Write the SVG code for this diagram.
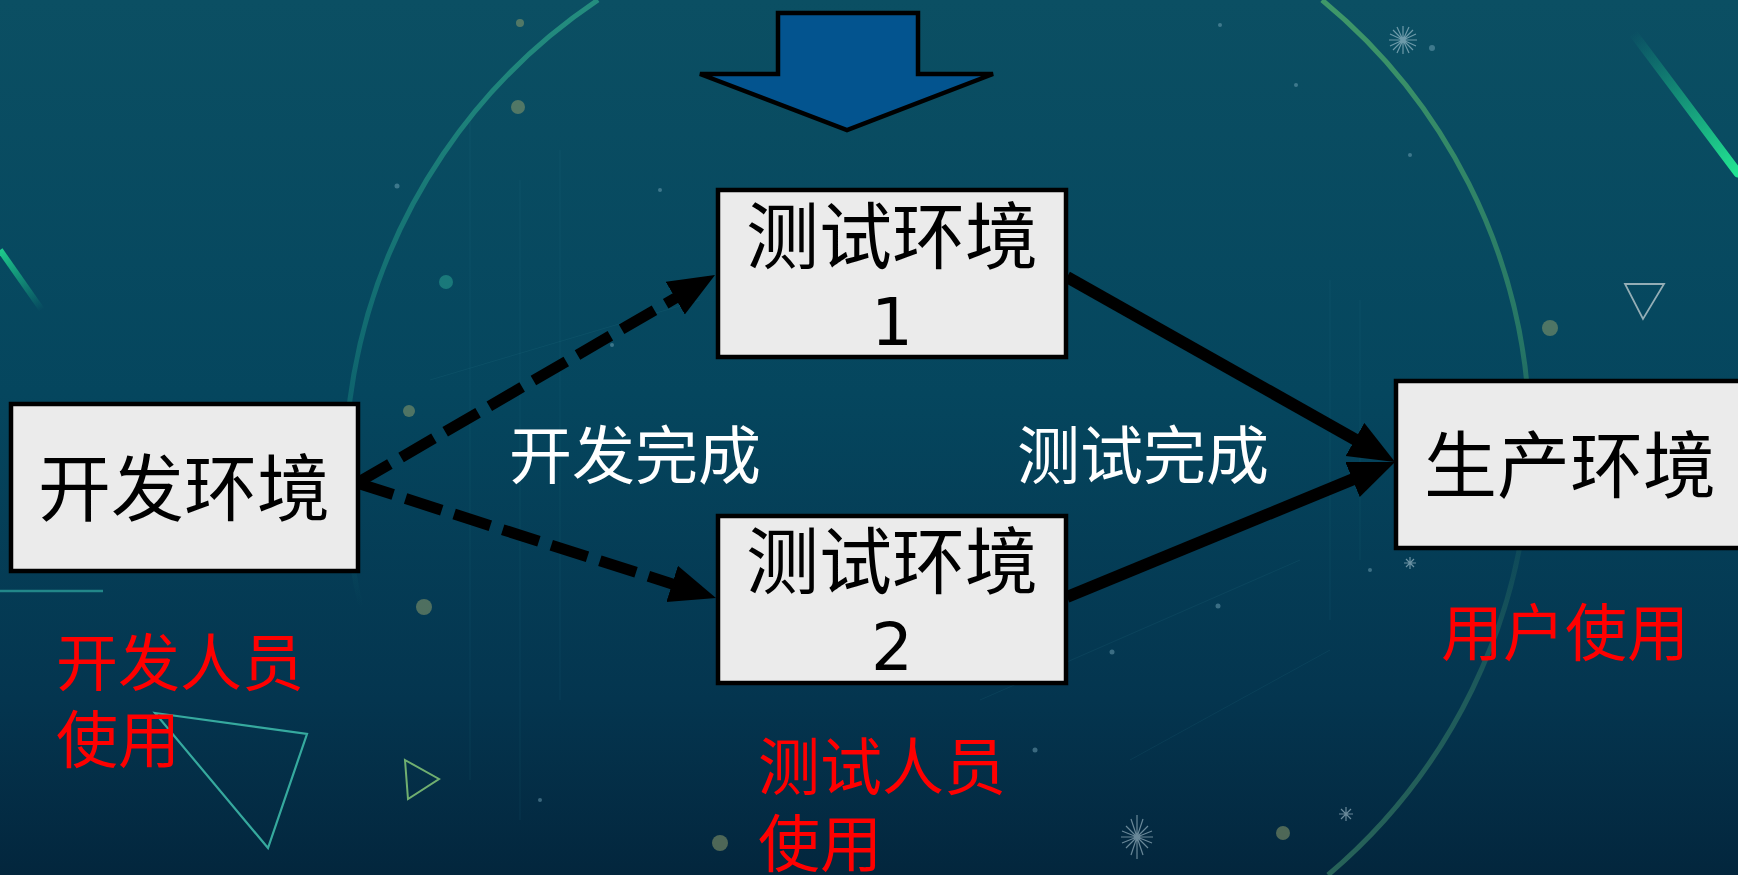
<svg xmlns="http://www.w3.org/2000/svg" width="1738" height="875" viewBox="0 0 1738 875">
  <defs>
    <linearGradient id="bg" x1="0" y1="0" x2="0" y2="1">
      <stop offset="0" stop-color="#0b4f63"/>
      <stop offset="0.45" stop-color="#05465e"/>
      <stop offset="0.8" stop-color="#04354f"/>
      <stop offset="1" stop-color="#03263d"/>
    </linearGradient>
    <linearGradient id="ringL" x1="0" y1="0" x2="0" y2="1">
      <stop offset="0" stop-color="#2fa88a" stop-opacity="0.7"/>
      <stop offset="0.5" stop-color="#1f9a8a" stop-opacity="0.35"/>
      <stop offset="0.75" stop-color="#1f9a8a" stop-opacity="0"/>
    </linearGradient>
    <linearGradient id="ringR" x1="0" y1="0" x2="0" y2="1">
      <stop offset="0" stop-color="#4caa6a" stop-opacity="0.8"/>
      <stop offset="0.4" stop-color="#3f9a6a" stop-opacity="0.55"/>
      <stop offset="0.6" stop-color="#3f8a6a" stop-opacity="0.12"/>
      <stop offset="0.8" stop-color="#3f8a6a" stop-opacity="0.45"/>
      <stop offset="1" stop-color="#3f8a6a" stop-opacity="0.6"/>
    </linearGradient>
    <linearGradient id="streakR" x1="1633" y1="33" x2="1738" y2="173" gradientUnits="userSpaceOnUse">
      <stop offset="0" stop-color="#20d890" stop-opacity="0"/>
      <stop offset="1" stop-color="#22e592" stop-opacity="1"/>
    </linearGradient>
    <linearGradient id="streakL" x1="0" y1="250" x2="42" y2="310" gradientUnits="userSpaceOnUse">
      <stop offset="0" stop-color="#20d890" stop-opacity="0.9"/>
      <stop offset="1" stop-color="#20d890" stop-opacity="0"/>
    </linearGradient>
    <marker id="head" markerUnits="userSpaceOnUse" markerWidth="48" markerHeight="40" refX="16" refY="19" orient="auto">
      <path d="M0,0 L46,19 L0,38 z" fill="#000"/>
    </marker>
    <style>
      .box { fill: #ebebeb; stroke: #000; stroke-width: 4.5; }
      .cjk { font-family: "Noto Sans CJK SC", sans-serif; }
      .big { font-size: 73px; fill: #000; text-anchor: middle; }
      .num { font-family: "DejaVu Sans", sans-serif; font-size: 66px; fill: #000; text-anchor: middle; }
      .lbl { font-size: 63px; fill: #ffffff; text-anchor: middle; }
      .red { font-size: 62px; fill: #ff0000; }
      .dash { fill: none; stroke: #000; stroke-width: 11; stroke-dasharray: 38 13; marker-end: url(#head); }
      .solid { fill: none; stroke: #000; stroke-width: 12; marker-end: url(#head); }
      .dot { fill: #8c9a6a; opacity: 0.55; }
      .sdot { fill: #7fb0c0; opacity: 0.45; }
      .spark { stroke: #cfe6f0; stroke-width: 1.2; opacity: 0.5; }
      .net { stroke: #3a8aa0; stroke-width: 1; opacity: 0.12; fill: none; }
    </style>
  </defs>

  <!-- background -->
  <g id="background">
    <rect x="0" y="0" width="1738" height="875" fill="url(#bg)"/>
    <path class="net" d="M470 120 L470 780 M520 180 L520 820 M560 150 L560 700 M1330 280 L1330 620 M1360 300 L1360 560 M430 380 L700 300 M980 700 L1300 560 M1130 760 L1330 650"/>
    <path d="M598 0 A570 570 0 0 0 455 810" fill="none" stroke="url(#ringL)" stroke-width="5"/>
    <path d="M1322 0 A570 570 0 0 1 1328 875" fill="none" stroke="url(#ringR)" stroke-width="5"/>
    <line x1="1633" y1="33" x2="1738" y2="173" stroke="url(#streakR)" stroke-width="9" stroke-linecap="round"/>
    <line x1="0" y1="250" x2="42" y2="310" stroke="url(#streakL)" stroke-width="6"/>
    <line x1="0" y1="591" x2="103" y2="591" stroke="#2fa8a0" stroke-width="2.5" opacity="0.7"/>
    <polygon points="155,713 307,734 268,848" fill="none" stroke="#3fbfae" stroke-width="2.2" opacity="0.85"/>
    <polygon points="405,760 439,779 408,799" fill="none" stroke="#8ccf7a" stroke-width="2" opacity="0.8"/>
    <polygon points="1625,284 1664,284 1643,319" fill="none" stroke="#b8c8cc" stroke-width="1.8" opacity="0.8"/>
    <circle class="dot" cx="1550" cy="328" r="8"/>
    <circle class="dot" cx="518" cy="107" r="7"/>
    <circle class="dot" cx="446" cy="282" r="7" style="fill:#2aa090"/>
    <circle class="dot" cx="409" cy="411" r="6"/>
    <circle class="dot" cx="520" cy="23" r="4"/>
    <circle class="dot" cx="424" cy="607" r="8"/>
    <circle class="dot" cx="720" cy="843" r="8"/>
    <circle class="dot" cx="1283" cy="833" r="7"/>
    <circle class="sdot" cx="1432" cy="48" r="3"/>
    <circle class="sdot" cx="397" cy="186" r="2.5"/>
    <circle class="sdot" cx="1410" cy="155" r="2"/>
    <circle class="sdot" cx="1220" cy="25" r="2"/>
    <circle class="sdot" cx="1296" cy="85" r="2"/>
    <circle class="sdot" cx="1035" cy="750" r="2.5"/>
    <circle class="sdot" cx="1112" cy="652" r="2.5"/>
    <circle class="sdot" cx="1218" cy="606" r="2.5"/>
    <circle class="sdot" cx="1370" cy="570" r="2"/>
    <circle class="sdot" cx="940" cy="635" r="2"/>
    <circle class="sdot" cx="540" cy="800" r="2"/>
    <circle class="sdot" cx="1480" cy="520" r="2"/>
    <circle class="sdot" cx="612" cy="345" r="2"/>
    <circle class="sdot" cx="660" cy="190" r="2"/>
    <g class="spark" transform="translate(1403,40)">
      <path d="M-14 0 L14 0 M0 -14 L0 14 M-10 -10 L10 10 M-10 10 L10 -10 M-6 -13 L6 13 M-13 -6 L13 6 M-6 13 L6 -13 M-13 6 L13 -6"/>
    </g>
    <g class="spark" transform="translate(1137,837)">
      <path d="M-16 0 L16 0 M0 -22 L0 22 M-11 -11 L11 11 M-11 11 L11 -11 M-6 -18 L6 18 M-15 -6 L15 6 M-6 18 L6 -18 M-15 6 L15 -6"/>
    </g>
    <g class="spark" transform="translate(1346,814)">
      <path d="M-7 0 L7 0 M0 -7 L0 7 M-5 -5 L5 5 M-5 5 L5 -5"/>
    </g>
    <g class="spark" transform="translate(1410,563)">
      <path d="M-6 0 L6 0 M0 -6 L0 6 M-4 -4 L4 4 M-4 4 L4 -4"/>
    </g>
  </g>

  <!-- top blue arrow -->
  <g id="top-arrow">
    <polygon points="778,13 918,13 918,74 993,74 847,130 700,74 778,74" fill="#03548f" stroke="#000" stroke-width="4.5" stroke-linejoin="miter"/>
  </g>

  <!-- connectors -->
  <g id="connectors">
    <line class="dash" x1="357" y1="483" x2="689.1" y2="290.1"/>
    <line class="dash" x1="357" y1="483" x2="687.4" y2="588.8"/>
    <line class="solid" x1="1067" y1="277" x2="1368.9" y2="447.3"/>
    <line class="solid" x1="1067" y1="597" x2="1367.3" y2="473.4"/>
  </g>

  <!-- nodes -->
  <g id="node-dev">
    <rect class="box" x="11" y="404" width="347" height="167"/>
    <text class="cjk big" x="184" y="515">开发环境</text>
  </g>
  <g id="node-test1">
    <rect class="box" x="718" y="190" width="348" height="167"/>
    <text class="cjk big" x="892" y="263">测试环境</text>
    <text class="num" x="892" y="345">1</text>
  </g>
  <g id="node-test2">
    <rect class="box" x="718" y="516" width="348" height="167"/>
    <text class="cjk big" x="892" y="588">测试环境</text>
    <text class="num" x="892" y="670">2</text>
  </g>
  <g id="node-prod">
    <rect class="box" x="1396" y="381" width="352" height="167"/>
    <text class="cjk big" x="1570" y="492">生产环境</text>
  </g>

  <!-- labels -->
  <g id="labels">
    <text class="cjk lbl" x="635" y="478">开发完成</text>
    <text class="cjk lbl" x="1143" y="478">测试完成</text>
    <text class="cjk red" x="56" y="686">开发人员<tspan x="56" dy="77">使用</tspan></text>
    <text class="cjk red" x="758" y="790">测试人员<tspan x="758" dy="77">使用</tspan></text>
    <text class="cjk red" x="1441" y="656">用户使用</text>
  </g>
</svg>
